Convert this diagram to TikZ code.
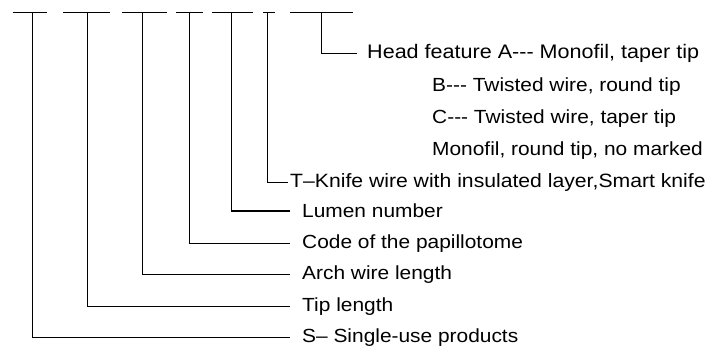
\documentclass[tikz,border=0pt]{standalone}
\usepackage{fontspec}
\setmainfont{Liberation Sans}[FakeStretch=1.1]
\begin{document}
\begin{tikzpicture}[x=1pt,y=-1pt,
  ln/.style={line width=1.3pt},
  lbl/.style={anchor=mid west,inner sep=0pt,font=\fontsize{19}{22}\selectfont},
  lblw/.style={lbl,font=\fontsize{19.6}{22}\selectfont},
  lblt/.style={lbl,font=\fontsize{19.25}{22}\selectfont}]
\useasboundingbox (0,0) rectangle (712,357);
% top bars
\foreach \a/\b in {12.7/46.7,63/110,122/167,176/203,212/253,263/275,290/353}
  \draw[ln] (\a,12.7) -- (\b,12.7);
% top points of verticals
\coordinate (v1) at (32.3,12.7);
\coordinate (v2) at (87.7,12.7);
\coordinate (v3) at (142.3,12.7);
\coordinate (v4) at (189.3,12.7);
\coordinate (v5) at (231.7,12.7);
\coordinate (v6) at (267.3,12.7);
\coordinate (v7) at (321.7,12.7);
% labels
\node[lblw] (head) at (367,55.7) {Head feature A-{}-{}- Monofil, taper tip};
\node[lbl] (b) at (432,88.5) {B-{}-{}- Twisted wire, round tip};
\node[lbl] (c) at (432,120.5) {C-{}-{}- Twisted wire, taper tip};
\node[lbl] (m) at (432,152.5) {Monofil, round tip, no marked};
\node[lblt] (t) at (290,184.5) {T–Knife wire with insulated layer,Smart knife};
\node[lbl] (lumen) at (302,215) {Lumen number};
\node[lbl] (code) at (302,245.5) {Code of the papillotome};
\node[lbl] (arch) at (302,277) {Arch wire length};
\node[lbl] (tip) at (302,308.5) {Tip length};
\node[lbl] (s) at (302,340) {S– Single-use products};
% connectors
\draw[ln] (v7) |- ([xshift=-10pt]head.west);
\draw[ln] (v6) |- ([xshift=-2.5pt]t.west);
\draw[ln] (v5) |- ([xshift=-12pt]lumen.west);
\draw[ln] (v4) |- ([xshift=-12pt]code.west);
\draw[ln] (v3) |- ([xshift=-12pt]arch.west);
\draw[ln] (v2) |- ([xshift=-12pt]tip.west);
\draw[ln] (v1) |- ([xshift=-12pt]s.west);
\end{tikzpicture}
\end{document}
